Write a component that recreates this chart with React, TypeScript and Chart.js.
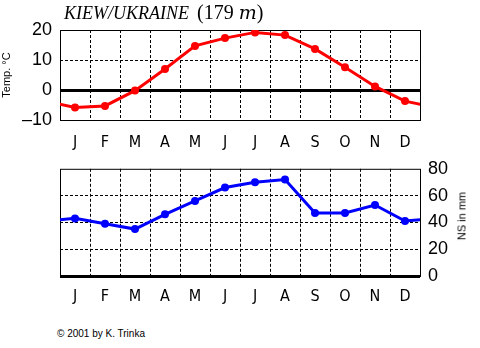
import React, { useEffect, useRef } from "react";
import { Chart, registerables } from "chart.js";

Chart.register(...registerables);

const months = ["J", "F", "M", "A", "M", "J", "J", "A", "S", "O", "N", "D"];
const temperature = [-5.8, -5.3, -0.2, 7.0, 14.7, 17.3, 19.2, 18.3, 13.7, 7.6, 1.2, -3.7];
const precipitation = [43, 39, 35, 46, 56, 66, 70, 72, 47, 47, 53, 41];
const tempTicks = [-10, 0, 10, 20];
const precTicks = [0, 20, 40, 60, 80];

const NARROW = '"Liberation Sans Narrow", "DejaVu Sans Condensed", "Liberation Sans", sans-serif';
const SANS = '"Liberation Sans", Arial, sans-serif';

function cyclic(values: number[]) {
  return [
    { x: -0.5, y: values[values.length - 1] },
    ...values.map((v, i) => ({ x: i + 0.5, y: v })),
    { x: values.length + 0.5, y: values[0] },
  ];
}

const framePlugin = {
  id: "frame",
  beforeDatasetsDraw(chart: any) {
    const { ctx, chartArea: a } = chart;
    ctx.save();
    ctx.strokeStyle = "#000";
    ctx.lineWidth = 1;
    ctx.setLineDash([]);
    ctx.strokeRect(a.left + 0.5, a.top + 0.5, a.right - a.left, a.bottom - a.top);
    ctx.restore();
  },
};

const TOP_H = 150;
const BOTTOM_H = 170;

function makeConfig(kind: "temp" | "prec"): any {
  const isTemp = kind === "temp";
  const values = isTemp ? temperature : precipitation;
  const color = isTemp ? "#ff0000" : "#0000ff";
  const yTicks = isTemp ? tempTicks : precTicks;
  const yMin = yTicks[0];
  const yMax = yTicks[yTicks.length - 1];
  const n = months.length;
  return {
    type: "line",
    data: {
      datasets: [
        {
          data: cyclic(values),
          borderColor: color,
          backgroundColor: color,
          borderWidth: 3,
          pointRadius: (c: any) => (c.dataIndex === 0 || c.dataIndex === n + 1 ? 0 : 4),
          pointHoverRadius: 0,
          pointBorderWidth: 0,
          tension: 0,
          clip: 0,
          xAxisID: "x",
          yAxisID: "y",
        },
      ],
    },
    plugins: [framePlugin],
    options: {
      animation: false,
      responsive: false,
      events: [],
      layout: {
        padding: isTemp
          ? { top: 30, right: 60, left: 0, bottom: 0 }
          : { top: 6, right: 0, left: 60, bottom: 0 },
      },
      plugins: {
        legend: { display: false },
        tooltip: { enabled: false },
        title: { display: false },
      },
      scales: {
        x: {
          type: "linear",
          position: "bottom",
          min: 0,
          max: n,
          ticks: { display: false, stepSize: 1 },
          grid: {
            drawTicks: false,
            color: (c: any) =>
              c.tick && (c.tick.value <= 0 || c.tick.value >= n) ? "rgba(0,0,0,0)" : "#000",
            lineWidth: 1,
          },
          border: { display: false, dash: [3, 2] },
          afterFit: (s: any) => {
            s.height = 0;
          },
        },
        xl: {
          type: "linear",
          position: "bottom",
          min: 0,
          max: n,
          afterBuildTicks: (s: any) => {
            s.ticks = months.map((_, i) => ({ value: i + 0.5 }));
          },
          ticks: {
            autoSkip: false,
            maxRotation: 0,
            padding: isTemp ? 13 : 11,
            color: "#000",
            font: { family: NARROW, size: 16 },
            callback: (_v: any, i: number) => months[i],
          },
          grid: { display: false, drawTicks: false },
          border: { display: false },
          afterFit: (s: any) => {
            s.height = isTemp ? 30 : BOTTOM_H - 126;
          },
        },
        y: {
          type: "linear",
          position: isTemp ? "left" : "right",
          min: yMin,
          max: yMax,
          afterBuildTicks: (s: any) => {
            s.ticks = yTicks.map((v) => ({ value: v }));
          },
          ticks: {
            padding: 8,
            color: "#000",
            font: { family: SANS, size: 18 },
            callback: (v: number) => (v < 0 ? "\u2013" + Math.abs(v) : String(v)),
          },
          grid: {
            drawTicks: false,
            color: (c: any) => {
              if (!c.tick) return "#000";
              const v = c.tick.value;
              if (v === 0) return "#000";
              return v === yMin || v === yMax ? "rgba(0,0,0,0)" : "#000";
            },
            lineWidth: (c: any) => (c.tick && c.tick.value === 0 ? 3 : 1),
          },
          border: {
            display: false,
            dash: (c: any) => (c.tick && c.tick.value === 0 ? [] : [3, 2]),
          },
          title: isTemp
            ? {
                display: true,
                text: "Temp. °C",
                color: "#000",
                font: { family: SANS, size: 11 },
                padding: 0,
              }
            : { display: false },
          afterFit: (s: any) => {
            s.width = 60;
          },
        },
      },
    },
  };
}

function ChartCanvas({ kind, top, height }: { kind: "temp" | "prec"; top: number; height: number }) {
  const ref = useRef<HTMLCanvasElement | null>(null);
  useEffect(() => {
    if (!ref.current) return;
    const chart = new Chart(ref.current, makeConfig(kind));
    return () => chart.destroy();
  }, [kind]);
  return (
    <canvas
      ref={ref}
      width={480}
      height={height}
      style={{ position: "absolute", left: 0, top, width: 480, height, display: "block" }}
    />
  );
}

export default function App() {
  return (
    <div
      style={{
        position: "absolute",
        left: 0,
        top: 0,
        width: 480,
        height: 348,
        background: "#fff",
        overflow: "hidden",
      }}
    >
      <ChartCanvas kind="temp" top={0} height={TOP_H} />
      <ChartCanvas kind="prec" top={150} height={BOTTOM_H} />
      <div
        style={{
          position: "absolute",
          left: 64,
          top: 0,
          font: '18px "Liberation Serif", "Times New Roman", serif',
          lineHeight: "24px",
          whiteSpace: "nowrap",
          color: "#000",
        }}
      >
        <i>KIEW/UKRAINE</i>
        <span style={{ fontSize: 20, marginLeft: 3 }}> (179 </span>
        <i style={{ fontFamily: '"DejaVu Serif", serif', fontSize: 19 }}>m</i>
        <span style={{ fontSize: 20 }}>)</span>
      </div>
      <div
        style={{
          position: "absolute",
          left: 462,
          top: 216,
          transform: "translate(-50%, -50%) rotate(-90deg)",
          font: `11px ${SANS}`,
          lineHeight: "13px",
          whiteSpace: "nowrap",
          color: "#000",
        }}
      >
        NS in mm
      </div>
      <div
        style={{
          position: "absolute",
          left: 57,
          top: 328,
          font: `10px ${SANS}`,
          lineHeight: "12px",
          whiteSpace: "nowrap",
          color: "#000",
        }}
      >
        © 2001 by K. Trinka
      </div>
    </div>
  );
}
